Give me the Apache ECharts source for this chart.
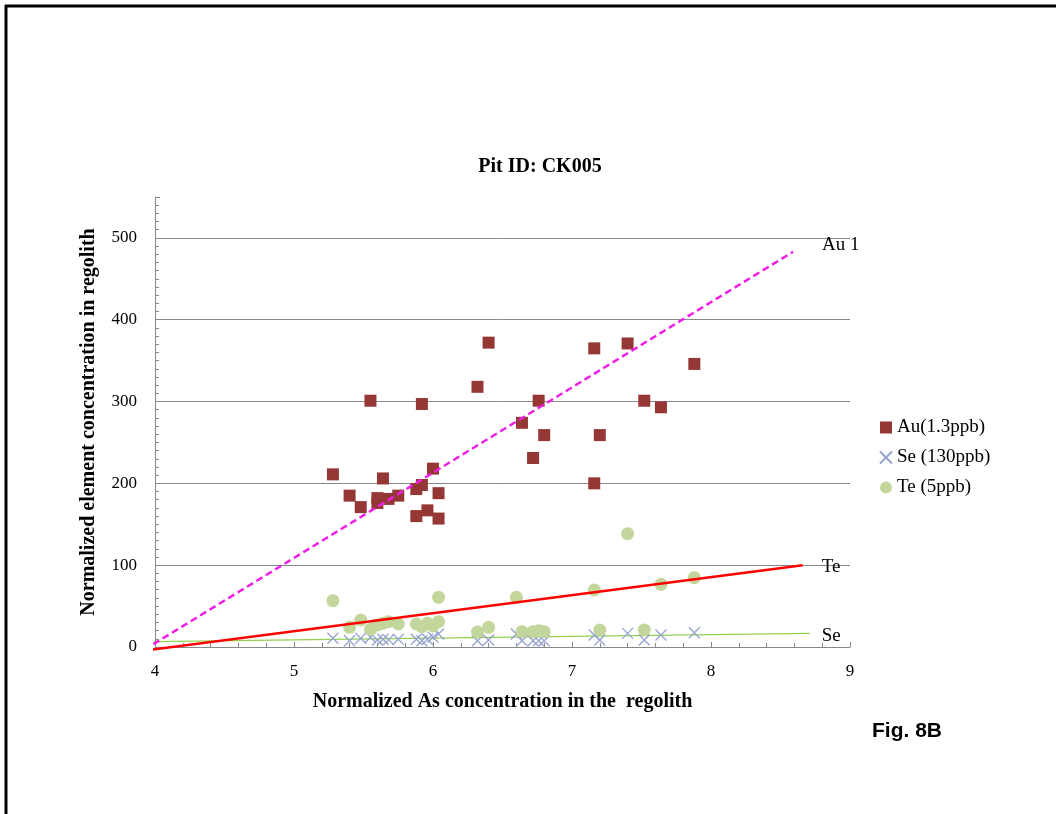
<!DOCTYPE html>
<html>
<head>
<meta charset="utf-8">
<script src="https://cdn.jsdelivr.net/npm/echarts@6/dist/echarts.min.js"></script>
<style>
  html, body { margin: 0; padding: 0; background: #fff; }
  #main { width: 1058px; height: 814px; }
</style>
</head>
<body>
<div id="main"></div>
<script>
// Au (1.3ppb) points
const auX = [5.28, 5.40, 5.48, 5.60, 5.60, 5.64, 5.68, 5.75, 5.55, 5.88, 5.88, 5.92, 5.92, 5.96, 6.00,
  6.04, 6.04, 6.32, 6.40, 6.64, 6.72, 6.76, 6.80, 7.16, 7.16, 7.20, 7.40, 7.52, 7.64, 7.88];
const auY = [211, 185, 171, 182, 176, 206, 181, 185, 301, 193, 160, 198, 297, 167, 218,
  188, 157, 318, 372, 274, 231, 301, 259, 365, 200, 259, 371, 301, 293, 346];

// Se (130ppb) points
const seX = [5.28, 5.40, 5.48, 5.55, 5.60, 5.64, 5.68, 5.75, 5.88, 5.92, 5.96, 6.00, 6.04, 6.32, 6.40,
  6.60, 6.64, 6.72, 6.76, 6.80, 7.16, 7.20, 7.40, 7.52, 7.64, 7.88];
const seY = [10.6, 7.7, 10.6, 11.9, 8.6, 9.4, 9.0, 9.4, 9.4, 7.7, 9.4, 11.9, 15.9, 7.7, 8.6,
  15.9, 7.7, 7.7, 7.7, 7.7, 14.7, 8.6, 16.7, 8.6, 14.7, 17.5];

// Te (5ppb) points
const teX = [5.28, 5.40, 5.48, 5.55, 5.60, 5.64, 5.68, 5.75, 5.88, 5.92, 5.96, 6.00, 6.04, 6.04, 6.32,
  6.40, 6.60, 6.64, 6.72, 6.76, 6.80, 7.16, 7.20, 7.40, 7.52, 7.64, 7.88];
const teY = [56.6, 24, 33, 21.6, 26.9, 29, 31, 28.1, 28.1, 24.8, 29, 25.7, 31, 60.7, 18.3,
  24, 60.7, 18.7, 18.7, 20, 18.7, 69.7, 20.8, 138.5, 20.8, 76.6, 84.7];

// trendline end points (x, y)
const auTrendX = [3.92, 8.59];
const auTrendY = [-3.7, 483];
const teTrendX = [3.92, 8.66];
const teTrendY = [-4.5, 100];
const seTrendX = [3.92, 8.71];
const seTrendY = [6.5, 16.7];

const xTicks = [4, 5, 6, 7, 8, 9];
const yTicks = [0, 100, 200, 300, 400, 500];

const serif = 'Liberation Serif';

function pairs (xs, ys) {
  return xs.map(function (x, i) { return [x, ys[i]]; });
}

function endLabel (text, offset) {
  return {
    show: true,
    formatter: text,
    distance: 0,
    offset: offset,
    color: '#000',
    fontFamily: serif,
    fontSize: 19
  };
}

const crossPath = 'path://M0,0L10,10M10,0L0,10';

const option = {
  animation: false,
  backgroundColor: '#fff',
  title: {
    text: 'Pit ID: CK005',
    left: 535,
    top: 152,
    textAlign: 'center',
    textStyle: { fontFamily: serif, fontWeight: 'bold', fontSize: 20, color: '#000' }
  },
  legend: {
    orient: 'vertical',
    left: 874,
    top: 413,
    itemGap: 11,
    itemWidth: 12,
    itemHeight: 12,
    textStyle: { fontFamily: serif, fontSize: 19, color: '#000' },
    data: [
      { name: 'Au(1.3ppb)', icon: 'rect' },
      { name: 'Se (130ppb)', icon: crossPath },
      { name: 'Te (5ppb)', icon: 'circle' }
    ]
  },
  grid: { left: 155, right: 208, top: 197, bottom: 167 },
  xAxis: {
    type: 'value',
    min: xTicks[0],
    max: xTicks[xTicks.length - 1],
    interval: 1,
    name: 'Normalized As concentration in the  regolith',
    nameLocation: 'middle',
    nameGap: 45,
    nameTextStyle: { fontFamily: serif, fontWeight: 'bold', fontSize: 20, color: '#000' },
    axisLine: { onZero: false, lineStyle: { color: '#888', width: 1 } },
    axisTick: { show: true, inside: true, length: 5, lineStyle: { color: '#888' } },
    minorTick: { show: true, splitNumber: 5, length: 4, lineStyle: { color: '#888' } },
    axisLabel: { fontFamily: serif, fontSize: 17, color: '#000', margin: 16 },
    splitLine: { show: false }
  },
  yAxis: {
    type: 'value',
    min: yTicks[0],
    max: 550,
    interval: 100,
    name: 'Normalized element concentration in regolith',
    nameLocation: 'middle',
    nameGap: 56,
    nameTextStyle: { fontFamily: serif, fontWeight: 'bold', fontSize: 20, color: '#000' },
    axisLine: { show: true, lineStyle: { color: '#888', width: 1 } },
    axisTick: { show: true, inside: true, length: 5, lineStyle: { color: '#888' } },
    minorTick: { show: true, splitNumber: 10, length: 4, lineStyle: { color: '#888' } },
    axisLabel: { fontFamily: serif, fontSize: 17, color: '#000', margin: 18, showMaxLabel: false },
    splitLine: {
      show: true,
      lineStyle: { color: ['#888', '#888', '#888', '#888', '#888', '#888', 'transparent'], width: 1 }
    }
  },
  series: [
    {
      name: 'Au trend',
      type: 'line',
      data: pairs(auTrendX, auTrendY),
      symbol: 'none',
      clip: false,
      silent: true,
      z: 3,
      endLabel: endLabel('Au 1', [29, -7]),
      lineStyle: { color: '#f01ee6', width: 2.5, type: [7, 4] }
    },
    {
      name: 'Te trend',
      type: 'line',
      data: pairs(teTrendX, teTrendY),
      symbol: 'none',
      clip: false,
      silent: true,
      z: 3,
      endLabel: endLabel('Te', [19, 2]),
      lineStyle: { color: '#ff0000', width: 2.5 }
    },
    {
      name: 'Se trend',
      type: 'line',
      data: pairs(seTrendX, seTrendY),
      symbol: 'none',
      clip: false,
      silent: true,
      z: 1,
      endLabel: endLabel('Se', [12, 3]),
      lineStyle: { color: '#92d050', width: 1.2 }
    },
    {
      name: 'Au(1.3ppb)',
      type: 'scatter',
      data: pairs(auX, auY),
      symbol: 'rect',
      symbolSize: 12,
      z: 2,
      itemStyle: { color: '#953735', opacity: 1 }
    },
    {
      name: 'Se (130ppb)',
      type: 'scatter',
      data: pairs(seX, seY),
      symbol: crossPath,
      symbolSize: 11,
      z: 2,
      itemStyle: { color: 'transparent', borderColor: '#95a3d0', borderWidth: 1.3, opacity: 1 }
    },
    {
      name: 'Te (5ppb)',
      type: 'scatter',
      data: pairs(teX, teY),
      symbol: 'circle',
      symbolSize: 13,
      z: 2,
      itemStyle: { color: '#c3d69b', opacity: 1 }
    }
  ],
  graphic: [
    {
      type: 'line',
      shape: { x1: 5, y1: 6, x2: 1056, y2: 6 },
      style: { stroke: '#000', lineWidth: 3 }
    },
    {
      type: 'line',
      shape: { x1: 6, y1: 5, x2: 6, y2: 814 },
      style: { stroke: '#000', lineWidth: 3 }
    },
    {
      type: 'text',
      left: 872,
      top: 721,
      style: {
        text: 'Fig. 8B',
        font: 'bold 21px "Liberation Sans"',
        fill: '#000'
      }
    }
  ]
};

const chart = echarts.init(document.getElementById('main'), null, { renderer: 'canvas' });
chart.setOption(option);
</script>
</body>
</html>
